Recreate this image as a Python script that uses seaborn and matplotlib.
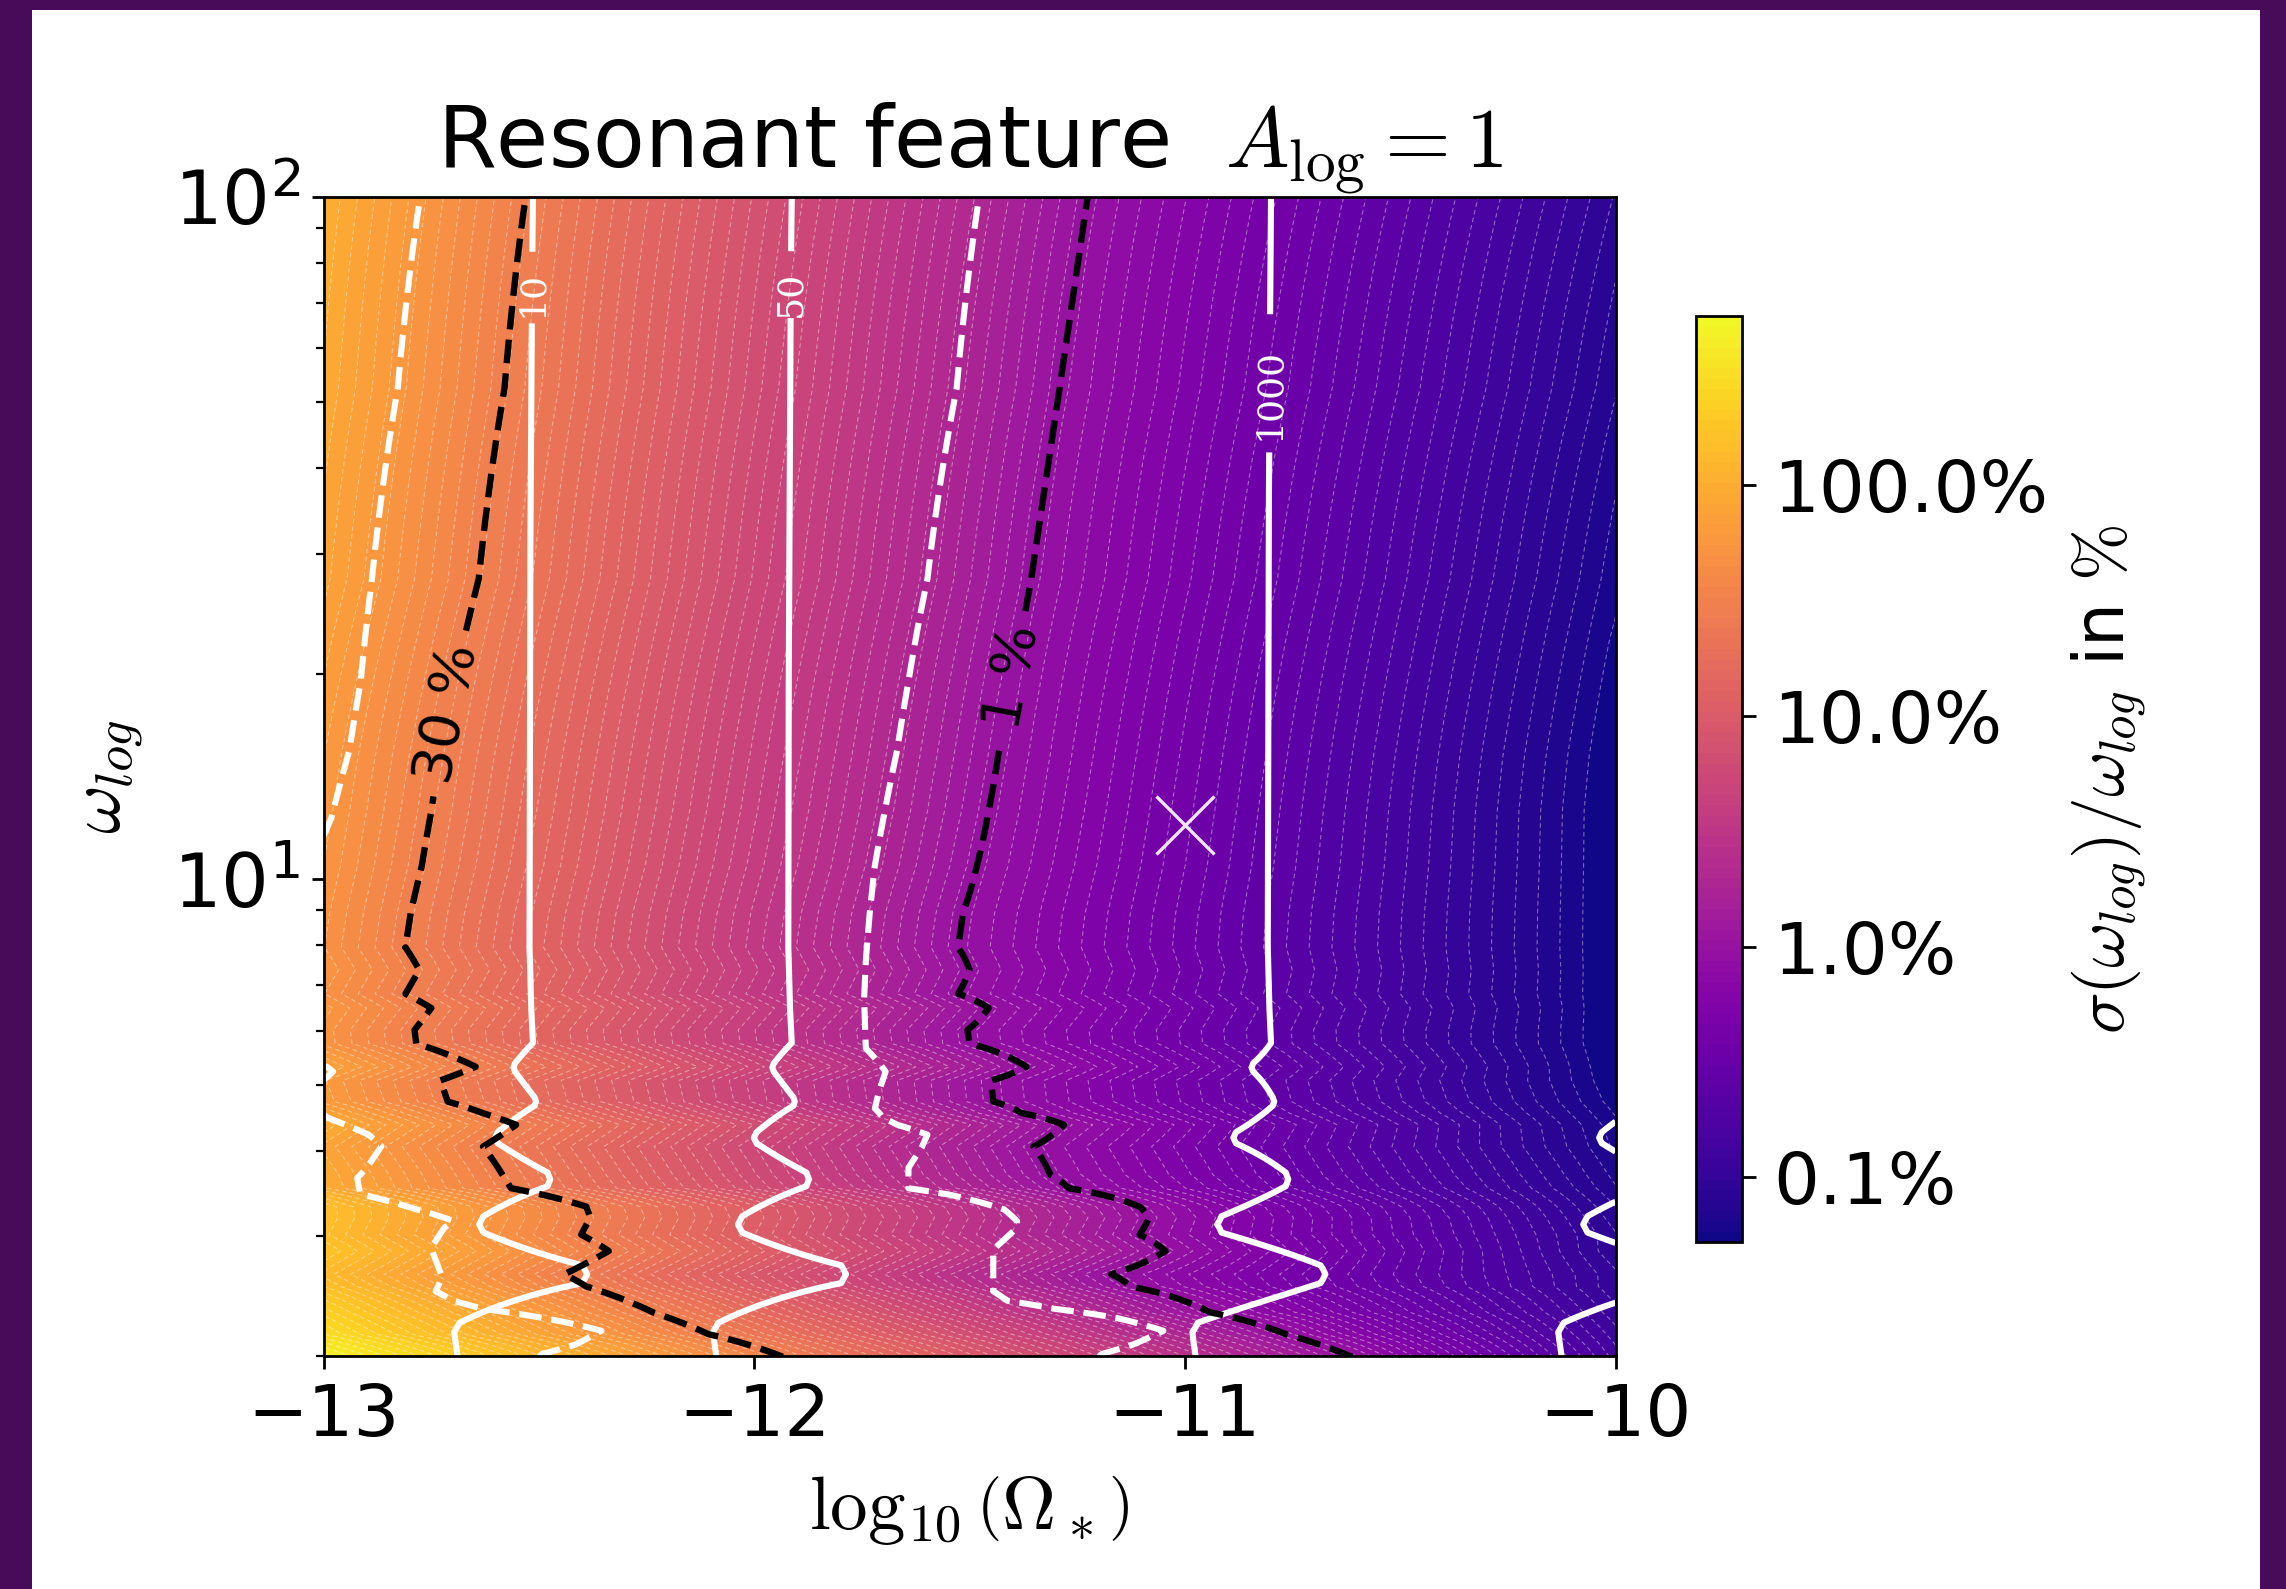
import numpy as np
import matplotlib
matplotlib.use("Agg")
import matplotlib.pyplot as plt
import seaborn as sns
from matplotlib.colors import LogNorm
from matplotlib.patches import Rectangle
from matplotlib.ticker import FuncFormatter, NullFormatter

# ---- values -------------------------------------------------------------
# sigma(w_log)/w_log in %: for each row (log10 of w_log) the x position of
# the 30 % and 1 % contours, and log10(sigma in %) at the right edge x = -10
sig_logw = [0.300, 0.333, 0.365, 0.403, 0.421, 0.455, 0.479, 0.504, 0.520,
            0.547, 0.567, 0.608, 0.640, 0.657, 0.674, 0.705, 0.725, 0.759,
            0.779, 0.811, 0.832, 0.867, 0.900, 0.950, 1.020, 1.100, 1.180,
            1.440, 1.720, 2.000]
sig_x30 = [-11.934, -12.106, -12.235, -12.390, -12.441, -12.338, -12.402,
           -12.381, -12.390, -12.565, -12.585, -12.630, -12.553, -12.630,
           -12.712, -12.729, -12.647, -12.785, -12.789, -12.750, -12.810,
           -12.778, -12.810, -12.798, -12.772, -12.750, -12.730, -12.640,
           -12.580, -12.531]
sig_x1 = [-10.612, -10.765, -10.941, -11.127, -11.171, -11.045, -11.105,
          -11.083, -11.105, -11.270, -11.313, -11.352, -11.281, -11.379,
          -11.445, -11.450, -11.368, -11.500, -11.505, -11.456, -11.527,
          -11.500, -11.527, -11.516, -11.483, -11.456, -11.434, -11.357,
          -11.291, -11.226]
sig_right = [-0.85, -0.90, -0.95, -1.00, -1.00, -1.05, -1.05, -1.08, -1.10,
             -1.14, -1.16, -1.20, -1.22, -1.24, -1.26, -1.28, -1.29, -1.30,
             -1.30, -1.30, -1.30, -1.30, -1.30, -1.30, -1.30, -1.30, -1.29,
             -1.22, -1.14, -1.06]

# the white dashed 30 % / 1 % pair
alt_logw = [0.300, 0.304, 0.318, 0.338, 0.357, 0.370, 0.382, 0.396, 0.416,
            0.450, 0.460, 0.489, 0.499, 0.516, 0.538, 0.547, 0.562, 0.577,
            0.6085, 0.6255, 0.640, 0.650, 0.664, 0.690, 0.718, 0.752, 0.825,
            0.880, 0.950, 1.020, 1.090, 1.190, 1.290, 1.440, 1.720, 2.000]
alt_x30 = [-12.500, -12.493, -12.415, -12.355, -12.493, -12.630, -12.700,
           -12.740, -12.725, -12.745, -12.750, -12.720, -12.699, -12.785,
           -12.914, -12.918, -12.922, -12.900, -12.866, -12.896, -12.950,
           -12.990, -13.020, -13.030, -12.978, -13.060, -13.100, -13.080,
           -13.060, -13.030, -12.982, -12.940, -12.914, -12.888, -12.828,
           -12.776]
alt_x1 = [-11.200, -11.193, -11.120, -11.050, -11.160, -11.300, -11.412,
          -11.445, -11.445, -11.445, -11.440, -11.390, -11.390, -11.420,
          -11.550, -11.642, -11.642, -11.642, -11.610, -11.598, -11.668,
          -11.700, -11.720, -11.710, -11.695, -11.741, -11.745, -11.741,
          -11.732, -11.720, -11.700, -11.668, -11.642, -11.598, -11.530,
          -11.478]

# SNR contours (white solid): position at large w_log and wiggle shift per row
snr_levels = [10, 50, 1000, 5000]
snr_labels = {10: "10", 50: "50", 1000: "1000", 5000: "5000"}
snr_x = [-12.514, -11.913, -10.800, -9.950]
snr_logw = [0.300, 0.322, 0.336, 0.350, 0.408, 0.421, 0.434, 0.482, 0.494,
            0.506, 0.550, 0.560, 0.570, 0.613, 0.621, 0.629, 0.668, 0.674,
            0.680, 0.718, 0.724, 0.730, 0.760, 0.810, 0.900, 2.000]
snr_shift = [-0.175, -0.180, -0.183, -0.170, 0.115, 0.126, 0.115, -0.115,
             -0.125, -0.115, 0.034, 0.040, 0.034, -0.082, -0.088, -0.082,
             0.004, 0.007, 0.004, -0.042, -0.045, -0.042, 0.000, -0.004,
             -0.008, 0.000]

sigma_levels = [1, 30]
sigma_labels = {1: "1 %", 30: "30 %"}
cbar_logrange = (-1.28, 2.73)
cbar_ticks = [0.1, 1, 10, 100]
x_ticks = [-13, -12, -11, -10]
marker_x = [-11.0]
marker_w = [12.0]


def row_profile(xs, ax_, av_):
    """piecewise linear through the anchors, straight continuation outside"""
    ax_ = np.asarray(ax_, float)
    av_ = np.asarray(av_, float)
    out = np.interp(xs, ax_, av_)
    lo = xs < ax_[0]
    hi = xs > ax_[-1]
    out[lo] = av_[0] + (xs[lo] - ax_[0]) * (av_[1] - av_[0]) / (ax_[1] - ax_[0])
    out[hi] = av_[-1] + (xs[hi] - ax_[-1]) * (av_[-1] - av_[-2]) / (ax_[-1] - ax_[-2])
    return out


x = np.linspace(-13, -10, 601)
l30 = np.log10(30)
z_sig = np.array([row_profile(x, [a, b, -10.0], [l30, 0.0, r])
                  for a, b, r in zip(sig_x30, sig_x1, sig_right)])
z_sig = np.clip(z_sig, cbar_logrange[0] + 1e-3, cbar_logrange[1] - 1e-3)
z_alt = np.array([row_profile(x, [a, b], [l30, 0.0])
                  for a, b in zip(alt_x30, alt_x1)])
z_snr = np.array([row_profile(x, [p + s for p in snr_x], np.log10(snr_levels))
                  for s in snr_shift])

# ---- style ---------------------------------------------------------------
sns.set_style("ticks")
plt.rcParams["font.family"] = ["DejaVu Sans"]
plt.rcParams["mathtext.fontset"] = "cm"
plt.rcParams["axes.linewidth"] = 1.0
for key in ["text.color", "axes.labelcolor", "xtick.color", "ytick.color",
            "axes.edgecolor"]:
    plt.rcParams[key] = "black"
cmap = sns.color_palette("plasma", as_cmap=True)

fig = plt.figure(figsize=(11.43, 7.945), dpi=200)
fig.patch.set_facecolor("#470b59")
fig.add_artist(Rectangle((0.014, 0.0), 0.9746, 0.9937, transform=fig.transFigure,
                         facecolor="white", edgecolor="none", zorder=-10))

ax = fig.add_axes([0.1416, 0.1466, 0.5651, 0.7295])
ax.set_yscale("log")
ax.set_xlim(-13, -10)
ax.set_ylim(2, 100)

levels = np.logspace(cbar_logrange[0], cbar_logrange[1], 90)
norm = LogNorm(vmin=levels[0], vmax=levels[-1])
w_sig = 10 ** np.array(sig_logw)
cf = ax.contourf(x, w_sig, 10 ** z_sig, levels=levels, norm=norm, cmap=cmap)
ax.contour(x, w_sig, 10 ** z_sig, levels=levels, colors="white",
           linewidths=0.4, linestyles=[(0, (4, 3))], alpha=0.4)

ax.contour(x, 10 ** np.array(alt_logw), 10 ** z_alt, levels=sigma_levels,
           colors="white", linewidths=2.2, linestyles="--")

cs_snr = ax.contour(x, 10 ** np.array(snr_logw), 10 ** z_snr, levels=snr_levels,
                    colors="white", linewidths=2.2, linestyles="-")
t_snr = ax.clabel(cs_snr, fmt=snr_labels, fontsize=13, inline=True,
                  inline_spacing=18,
                  manual=[(snr_x[0], 72), (snr_x[1], 72), (snr_x[2], 51.5)])
for t in t_snr:
    t.set_fontfamily("DejaVu Serif")

cs_sig = ax.contour(x, w_sig, 10 ** z_sig, levels=sigma_levels, colors="black",
                    linewidths=2.3, linestyles="--")
ax.clabel(cs_sig, fmt=sigma_labels, fontsize=20, inline=True, inline_spacing=14,
          manual=[(-12.71, 17.5), (-11.40, 19.8)])

ax.plot(marker_x, marker_w, ls="none", marker="x", ms=21, mew=1.2,
        color="white", alpha=0.9)

ax.set_xticks(x_ticks)
ax.yaxis.set_minor_formatter(NullFormatter())
ax.tick_params(axis="both", which="major", labelsize=26, length=4.5, width=1,
               direction="out")
ax.tick_params(axis="x", pad=5)
ax.tick_params(axis="y", which="minor", length=3, width=0.8)
ax.tick_params(axis="y", labelsize=27, pad=4)
ax.set_title("Resonant feature  $A_{\\rm log} = 1$", fontsize=30.5, pad=9)
ax.set_xlabel("$\\log_{10}\\left(\\Omega_*\\right)$", fontsize=27, labelpad=8)
ax.set_ylabel("$\\omega_{log}$", fontsize=27, labelpad=10)

cax = fig.add_axes([0.7418, 0.2183, 0.0204, 0.5826])
cbar = fig.colorbar(cf, cax=cax, ticks=cbar_ticks)
cbar.ax.minorticks_off()
cbar.ax.yaxis.set_major_formatter(FuncFormatter(lambda v, _: f"{v:.1f}%"))
cbar.ax.tick_params(labelsize=26, length=5, width=1, pad=6)
cbar.outline.set_linewidth(1.0)
cbar.set_label("$\\sigma(\\omega_{log})/\\omega_{log}$ in $\\%$", fontsize=25,
               labelpad=8)

fig.savefig("out.png", dpi=200, facecolor=fig.get_facecolor())
